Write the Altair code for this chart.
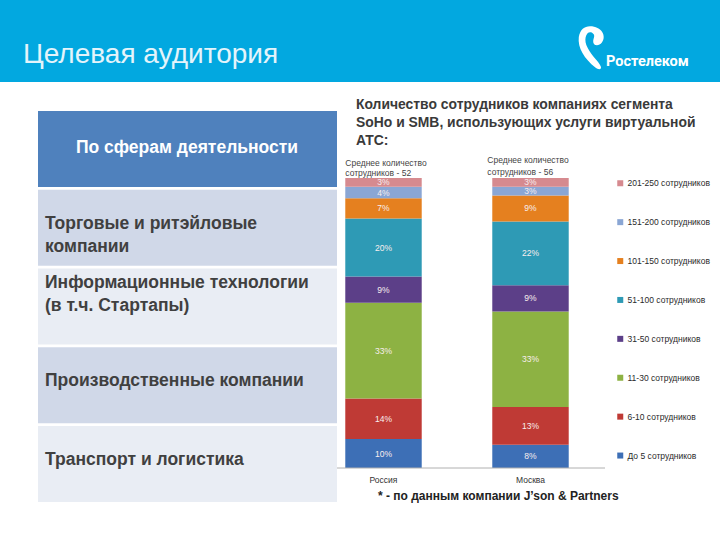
import altair as alt
import pandas as pd

# ---------------- data ----------------
regions = ["Россия", "Москва"]
avg_employees = [52, 56]
classes = ["До 5 сотрудников", "6-10 сотрудников", "11-30 сотрудников", "31-50 сотрудников",
           "51-100 сотрудников", "101-150 сотрудников", "151-200 сотрудников", "201-250 сотрудников"]
russia = [10, 14, 33, 9, 20, 7, 4, 3]
moscow = [8, 13, 33, 9, 22, 9, 3, 3]
sectors = ["По сферам деятельности",
           "Торговые и ритэйловые\nкомпании",
           "Информационные технологии\n(в т.ч. Стартапы)",
           "Производственные компании",
           "Транспорт и логистика"]
title_text = "Целевая аудитория"
subtitle_text = "Количество сотрудников компаниях сегмента\nSoHo и SMB, использующих услуги виртуальной\nАТС:"
footnote_text = "* - по данным компании J’son & Partners"
brand_text = "Ростелеком"

# ---------------- styles ----------------
class_colors = ["#3d6fb6", "#bf3a35", "#8db243", "#5c3f88", "#2e9ab5", "#e5801f", "#8aa6d4", "#d68a8f"]
FONT = "Liberation Sans"

rows = []
for reg, vals in zip(regions, [russia, moscow]):
    for i, (c, v) in enumerate(zip(classes, vals)):
        rows.append({"region": reg, "cls": c, "value": v, "order": i})
df = pd.DataFrame(rows)
ann = pd.DataFrame({"region": regions, "avg": avg_employees})
sec = pd.DataFrame({"sector": sectors, "idx": list(range(len(sectors)))})
one = pd.DataFrame({"a": [0]})

W, H = 294, 290
PL, PT = 310, 178

xscale = alt.Scale(domain=regions, paddingInner=0.48, paddingOuter=0.24)
yscale = alt.Scale(domain=[0, 100], nice=False)

bars = alt.Chart(df).mark_bar().encode(
    x=alt.X("region:N", sort=regions, scale=xscale,
            axis=alt.Axis(title=None, domain=False, ticks=False, labelAngle=0, labelFontSize=8.5,
                          labelFont=FONT, labelColor="#333333", labelPadding=7)),
    y=alt.Y("value:Q", stack="zero", scale=yscale, axis=None),
    color=alt.Color("cls:N", scale=alt.Scale(domain=classes[::-1], range=class_colors[::-1]),
                    legend=alt.Legend(orient="none", legendX=306, legendY=1, title=None,
                                      symbolType="square", symbolSize=36, symbolStrokeWidth=0,
                                      labelFontSize=8.5, labelFont=FONT, labelColor="#2a2a2a",
                                      rowPadding=29.9, labelOffset=3)),
    order=alt.Order("order:Q", sort="ascending"),
)

seg_labels = alt.Chart(df).transform_stack(
    stack="value", groupby=["region"], as_=["y0", "y1"],
    sort=[alt.SortField("order", order="ascending")]
).transform_calculate(
    mid="(datum.y0 + datum.y1) / 2", label="datum.value + '%'"
).mark_text(fontSize=8.5, font=FONT, color="#f8eeee").encode(
    x=alt.X("region:N", sort=regions, scale=xscale),
    y=alt.Y("mid:Q", scale=yscale),
    text="label:N",
)

ann_base = alt.Chart(ann).transform_calculate(
    label="'Среднее количество\\nсотрудников - ' + datum.avg"
)
annot_ru = ann_base.transform_filter(alt.datum.region == regions[0]).mark_text(
    fontSize=8.5, font=FONT, color="#444444", align="left", baseline="middle",
    lineBreak="\n", lineHeight=10, dy=-15.5).encode(
    x=alt.X("region:N", sort=regions, scale=xscale, bandPosition=0),
    y=alt.value(0), text="label:N")
annot_mo = ann_base.transform_filter(alt.datum.region == regions[1]).mark_text(
    fontSize=8.5, font=FONT, color="#444444", align="left", baseline="middle",
    lineBreak="\n", lineHeight=12, dy=-18.5, dx=-5).encode(
    x=alt.X("region:N", sort=regions, scale=xscale, bandPosition=0),
    y=alt.value(0), text="label:N")

baseline = alt.Chart(one).mark_rule(color="#b0b0b0", strokeWidth=1).encode(
    x=alt.value(337 - PL), x2=alt.value(605 - PL), y=alt.value(H))

chart_part = alt.layer(bars, seg_labels, annot_ru, annot_mo, baseline)

# ---------------- table on the left ----------------
tscale = alt.Scale(domain=sectors, range=[111 - PT, 502 - PT], paddingInner=0.035, paddingOuter=0)


def ty():
    return alt.Y("sector:N", sort=sectors, scale=tscale, axis=None)


cells = alt.Chart(sec).mark_rect().encode(
    y=ty(), x=alt.value(38 - PL), x2=alt.value(337 - PL),
    color=alt.condition("datum.idx == 0", alt.value("#4f81bd"), alt.value("#d0d8e8")),
).transform_filter("datum.idx == 0 || datum.idx % 2 == 1")
cells2 = alt.Chart(sec).mark_rect(color="#e9edf4").encode(
    y=ty(), x=alt.value(38 - PL), x2=alt.value(337 - PL),
).transform_filter("datum.idx > 0 && datum.idx % 2 == 0")

head_txt = alt.Chart(sec).transform_filter("datum.idx == 0").mark_text(
    font=FONT, fontSize=17.5, fontWeight="bold", color="white", align="center", baseline="middle", dy=-1
).encode(y=ty(), x=alt.value(187 - PL), text="sector:N")

row_txt = alt.Chart(sec).transform_filter("datum.idx > 0 && datum.idx != 2").mark_text(
    font=FONT, fontSize=17.5, fontWeight="bold", color="#404040", align="left", baseline="middle",
    lineBreak="\n", lineHeight=23, dy=-4
).encode(y=ty(), x=alt.value(45 - PL), text="sector:N")
row_txt2 = alt.Chart(sec).transform_filter("datum.idx == 2").mark_text(
    font=FONT, fontSize=17.5, fontWeight="bold", color="#404040", align="left", baseline="middle",
    lineBreak="\n", lineHeight=23, dy=-24
).encode(y=ty(), x=alt.value(45 - PL), text="sector:N")

table_part = alt.layer(cells, cells2, head_txt, row_txt, row_txt2)

# ---------------- header banner and texts ----------------
banner = alt.Chart(one).mark_rect(color="#02a8e0").encode(
    x=alt.value(-PL), x2=alt.value(720 - PL), y=alt.value(-PT), y2=alt.value(82 - PT))
title = alt.Chart(one).mark_text(font=FONT, fontSize=28, color="#e4f4fb", align="left",
                                 baseline="alphabetic", text=title_text).encode(
    x=alt.value(23 - PL), y=alt.value(63 - PT))
logo_path = ("M -0.05,-1 C 0.5,-1 0.72,-0.55 0.5,-0.25 C 0.35,-0.05 0.08,-0.1 0.1,-0.32 "
             "C 0.12,-0.5 0.22,-0.58 0.05,-0.7 C -0.2,-0.82 -0.38,-0.4 -0.15,0.0 "
             "C 0.05,0.4 0.35,0.6 0.45,0.85 C 0.5,1 0.35,1.02 0.2,0.9 "
             "C -0.3,0.5 -0.62,0.0 -0.56,-0.5 C -0.5,-0.85 -0.3,-1 -0.05,-1 Z")
logo = alt.Chart(one).mark_point(shape=logo_path, filled=True, color="white", opacity=1,
                                 size=1900, strokeWidth=0).encode(
    x=alt.value(591 - PL), y=alt.value(48 - PT))
brand = alt.Chart(one).mark_text(font="Roboto", fontSize=14.5, fontWeight="bold",
                                 color="white", align="left", baseline="middle", text=brand_text).encode(
    x=alt.value(606 - PL), y=alt.value(62 - PT))
subtitle = alt.Chart(one).mark_text(font=FONT, fontSize=13.9, fontWeight="bold", color="#3a3a3a",
                                    align="left", baseline="middle", lineBreak="\n", lineHeight=18,
                                    text=subtitle_text).encode(
    x=alt.value(356 - PL), y=alt.value(105 - PT))
footnote = alt.Chart(one).mark_text(font=FONT, fontSize=12, fontWeight="bold", color="#222222",
                                    align="left", baseline="middle", text=footnote_text).encode(
    x=alt.value(378 - PL), y=alt.value(496 - PT))

deco = alt.layer(banner, title, logo, brand, subtitle, footnote)

chart = alt.layer(deco, table_part, chart_part).resolve_scale(
    x="independent", y="independent", color="independent"
).properties(
    width=W, height=H,
    autosize=alt.AutoSizeParams(type="none"),
    padding={"left": PL, "top": PT, "right": 720 - PL - W, "bottom": 540 - PT - H},
    background="white",
).configure_view(stroke=None)

chart.save("out.html", embed_options={"renderer": "svg", "actions": False})
